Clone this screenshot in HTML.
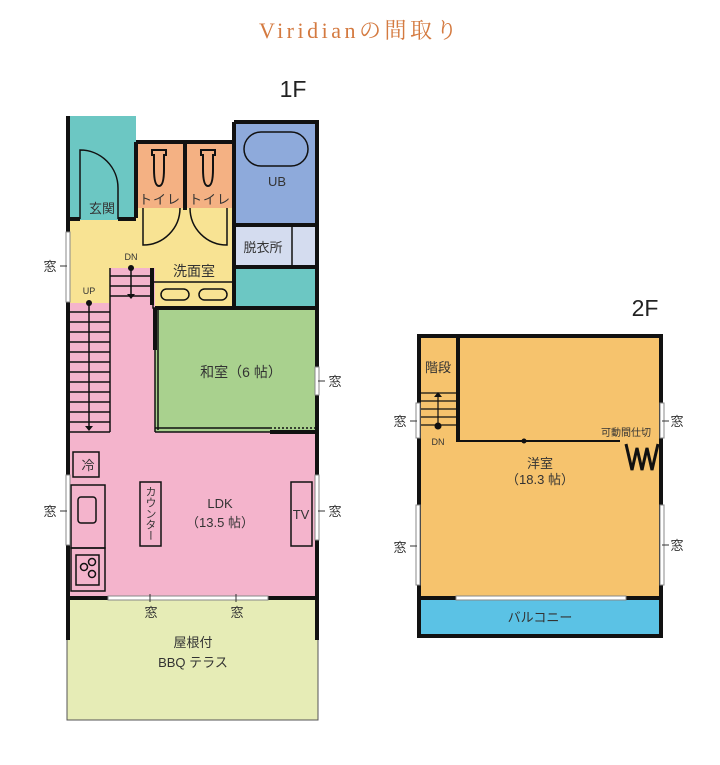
<!DOCTYPE html>
<html><head><meta charset="utf-8"><style>
body{margin:0;background:#fff;width:720px;height:760px;overflow:hidden}
text{font-family:"Liberation Sans","Noto Sans CJK JP",sans-serif;fill:#333}
</style></head><body>
<svg width="720" height="760" viewBox="0 0 720 760" xmlns="http://www.w3.org/2000/svg">
<text x="360" y="38" text-anchor="middle" style="font-family:'Liberation Serif','Noto Serif CJK SC',serif;fill:#d47a40;font-size:22px;letter-spacing:3.5px">Viridianの間取り</text>
<text x="293" y="97" text-anchor="middle" style="font-size:23px;fill:#222">1F</text>
<text x="645" y="316" text-anchor="middle" style="font-size:23px;fill:#222">2F</text>

<!-- 1F fills -->
<rect x="67" y="208" width="167" height="100" fill="#f8e393"/>
<rect x="67" y="116" width="69" height="104" fill="#6cc7c3"/>
<rect x="136" y="142" width="98" height="66" fill="#f4b183"/>
<rect x="234" y="120" width="84" height="105" fill="#8eaadb"/>
<rect x="234" y="225" width="84" height="42" fill="#d4dcef"/>
<rect x="234" y="267" width="84" height="41" fill="#6cc7c3"/>
<rect x="67" y="303" width="43" height="130" fill="#f4b4cc"/>
<rect x="110" y="268" width="45" height="170" fill="#f4b4cc"/>
<rect x="67" y="432" width="251" height="166" fill="#f4b4cc"/>
<rect x="155" y="308" width="163" height="124" fill="#a9d18e"/>
<rect x="67" y="598" width="251" height="122" fill="#e6ecb6" stroke="#555" stroke-width="1"/>

<!-- walls 1F -->
<g stroke="#111" stroke-width="4" fill="none">
<line x1="68" y1="116" x2="68" y2="232"/>
<line x1="68" y1="302" x2="68" y2="500"/>
<line x1="68" y1="545" x2="68" y2="640"/>
<line x1="317" y1="120" x2="317" y2="367"/>
<line x1="317" y1="395" x2="317" y2="475"/>
<line x1="317" y1="540" x2="317" y2="640"/>
<line x1="136" y1="142" x2="234" y2="142"/>
<line x1="234" y1="122" x2="317" y2="122"/>
<line x1="136" y1="142" x2="136" y2="218"/>
<line x1="68" y1="219" x2="80" y2="219"/>
<line x1="118" y1="219" x2="136" y2="219"/>
<line x1="185" y1="142" x2="185" y2="210"/>
<line x1="234" y1="122" x2="234" y2="308"/>
<line x1="234" y1="225" x2="317" y2="225"/>
<line x1="234" y1="267" x2="317" y2="267"/>
<line x1="234" y1="308" x2="317" y2="308"/>
<line x1="155" y1="308" x2="234" y2="308"/>
<line x1="152" y1="268" x2="152" y2="305"/>
<line x1="155" y1="308" x2="155" y2="350"/>
<line x1="270" y1="432" x2="317" y2="432"/>
<line x1="68" y1="598" x2="317" y2="598"/>
</g>
<g stroke="#111" stroke-width="1.5" fill="none">
<line x1="292" y1="225" x2="292" y2="267"/>
<line x1="155" y1="350" x2="155" y2="432"/>
<line x1="158" y1="310" x2="158" y2="430"/>
<line x1="155" y1="428" x2="270" y2="428"/>
<line x1="155" y1="432" x2="270" y2="432"/>
<line x1="270" y1="428" x2="317" y2="428" stroke-dasharray="2 2"/>
<path d="M80 219 L80 150 A38 38 0 0 1 118 188 L118 219"/>
<path d="M143 208 L143 245 A37 37 0 0 0 180 208"/>
<path d="M227 208 L227 245 A37 37 0 0 1 190 208"/>
<rect x="244" y="132" width="64" height="34" rx="17"/>
<path d="M152 150 h14 v5 h-2 v14 q0 17 -5 17 q-5 0 -5 -17 v-14 h-2z" stroke-width="2"/>
<path d="M201 150 h14 v5 h-2 v14 q0 17 -5 17 q-5 0 -5 -17 v-14 h-2z" stroke-width="2"/>
<rect x="153" y="282" width="81" height="26"/>
<rect x="161" y="289" width="28" height="11" rx="5.5"/>
<rect x="199" y="289" width="28" height="11" rx="5.5"/>
<rect x="73" y="452" width="26" height="25"/>
<rect x="71" y="485" width="34" height="63"/>
<rect x="78" y="497" width="18" height="26" rx="3"/>
<rect x="71" y="548" width="34" height="43"/>
<rect x="76" y="555" width="23" height="30"/>
<circle cx="84" cy="567" r="3.5"/><circle cx="92" cy="562" r="3.5"/><circle cx="92" cy="574" r="3.5"/>
<rect x="140" y="482" width="21" height="64"/>
<rect x="291" y="482" width="21" height="64"/>
</g>
<!-- stairs 1F -->
<g stroke="#111" stroke-width="1.5">
<line x1="110" y1="268" x2="110" y2="432"/>
<line x1="110" y1="276" x2="152" y2="276"/><line x1="110" y1="286" x2="152" y2="286"/><line x1="110" y1="296" x2="152" y2="296"/>
<line x1="67" y1="312" x2="110" y2="312"/><line x1="67" y1="322" x2="110" y2="322"/><line x1="67" y1="332" x2="110" y2="332"/><line x1="67" y1="342" x2="110" y2="342"/><line x1="67" y1="352" x2="110" y2="352"/><line x1="67" y1="362" x2="110" y2="362"/><line x1="67" y1="372" x2="110" y2="372"/><line x1="67" y1="382" x2="110" y2="382"/><line x1="67" y1="392" x2="110" y2="392"/><line x1="67" y1="402" x2="110" y2="402"/><line x1="67" y1="412" x2="110" y2="412"/><line x1="67" y1="422" x2="110" y2="422"/><line x1="67" y1="432" x2="110" y2="432"/>
<line x1="131" y1="268" x2="131" y2="295"/>
<line x1="89" y1="303" x2="89" y2="428"/>
</g>
<circle cx="131" cy="268" r="3" fill="#111"/><circle cx="89" cy="303" r="3" fill="#111"/>
<path d="M127 294 h8 l-4 5z M85 426 h8 l-4 5z" fill="#111"/>
<!-- windows 1F -->
<g stroke="#888" stroke-width="1" fill="#fff">
<rect x="66" y="232" width="4" height="70"/>
<rect x="66" y="475" width="4" height="70"/>
<rect x="315" y="367" width="4" height="28"/>
<rect x="315" y="475" width="4" height="65"/>
<rect x="108" y="596" width="160" height="4"/>
</g>
<g stroke="#333" stroke-width="1">
<line x1="60" y1="266" x2="67" y2="266"/><line x1="60" y1="511" x2="67" y2="511"/>
<line x1="318" y1="381" x2="325" y2="381"/><line x1="318" y1="511" x2="325" y2="511"/>
<line x1="150" y1="594" x2="150" y2="602"/><line x1="236" y1="594" x2="236" y2="602"/>
</g>
<g font-size="13">
<text x="102" y="213" text-anchor="middle">玄関</text>
<text x="160" y="204" text-anchor="middle" letter-spacing="1">トイレ</text>
<text x="210" y="204" text-anchor="middle" letter-spacing="1">トイレ</text>
<text x="277" y="186" text-anchor="middle">UB</text>
<text x="263" y="252" text-anchor="middle">脱衣所</text>
<text x="194" y="276" text-anchor="middle" font-size="14">洗面室</text>
<text x="131" y="260" text-anchor="middle" font-size="9">DN</text>
<text x="89" y="294" text-anchor="middle" font-size="9">UP</text>
<text x="241" y="377" text-anchor="middle" font-size="14">和室（6 帖）</text>
<text x="88" y="470" text-anchor="middle">冷</text>
<text x="150" y="486" font-size="11" writing-mode="tb">カウンター</text>
<text x="220" y="508" text-anchor="middle">LDK</text>
<text x="220" y="527" text-anchor="middle">（13.5 帖）</text>
<text x="301" y="519" text-anchor="middle">TV</text>
<text x="193" y="647" text-anchor="middle">屋根付</text>
<text x="193" y="667" text-anchor="middle">BBQ テラス</text>
<text x="50" y="271" text-anchor="middle">窓</text>
<text x="50" y="516" text-anchor="middle">窓</text>
<text x="335" y="386" text-anchor="middle">窓</text>
<text x="335" y="516" text-anchor="middle">窓</text>
<text x="151" y="617" text-anchor="middle">窓</text>
<text x="237" y="617" text-anchor="middle">窓</text>
</g>

<!-- 2F -->
<rect x="418" y="335" width="244" height="263" fill="#f6c36d"/>
<rect x="418" y="598" width="244" height="39" fill="#5bc2e5"/>
<g stroke="#111" stroke-width="4" fill="none">
<rect x="419" y="336" width="242" height="300"/>
<line x1="458" y1="336" x2="458" y2="442"/>
<line x1="419" y1="598" x2="661" y2="598"/>
</g>
<line x1="458" y1="441" x2="620" y2="441" stroke="#111" stroke-width="2"/>
<circle cx="524" cy="441" r="2.5" fill="#111"/>
<path d="M626 444 L632 470 L637 448 L642 470 L647 448 L652 470 L658 444" stroke="#111" stroke-width="3" fill="none"/>
<g stroke="#111" stroke-width="1.2">
<line x1="419" y1="393" x2="457" y2="393"/><line x1="419" y1="401" x2="457" y2="401"/><line x1="419" y1="409" x2="457" y2="409"/><line x1="419" y1="417" x2="457" y2="417"/><line x1="419" y1="425" x2="457" y2="425"/>
<line x1="438" y1="396" x2="438" y2="426"/>
</g>
<circle cx="438" cy="426" r="3.5" fill="#111"/><path d="M434 397 h8 l-4 -5z" fill="#111"/>
<g stroke="#888" stroke-width="1" fill="#fff">
<rect x="416" y="403" width="4" height="35"/>
<rect x="416" y="505" width="4" height="80"/>
<rect x="660" y="403" width="4" height="35"/>
<rect x="660" y="505" width="4" height="80"/>
<rect x="456" y="596" width="170" height="4"/>
</g>
<g stroke="#333" stroke-width="1">
<line x1="410" y1="421" x2="417" y2="421"/><line x1="410" y1="546" x2="417" y2="546"/>
<line x1="662" y1="421" x2="669" y2="421"/><line x1="662" y1="545" x2="669" y2="545"/>
</g>
<g font-size="13">
<text x="438" y="372" text-anchor="middle">階段</text>
<text x="438" y="445" text-anchor="middle" font-size="9">DN</text>
<text x="626" y="436" text-anchor="middle" font-size="10">可動間仕切</text>
<text x="540" y="468" text-anchor="middle">洋室</text>
<text x="540" y="484" text-anchor="middle">（18.3 帖）</text>
<text x="540" y="622" text-anchor="middle">バルコニー</text>
<text x="400" y="426" text-anchor="middle">窓</text>
<text x="400" y="552" text-anchor="middle">窓</text>
<text x="677" y="426" text-anchor="middle">窓</text>
<text x="677" y="550" text-anchor="middle">窓</text>
</g>
</svg>
</body></html>
